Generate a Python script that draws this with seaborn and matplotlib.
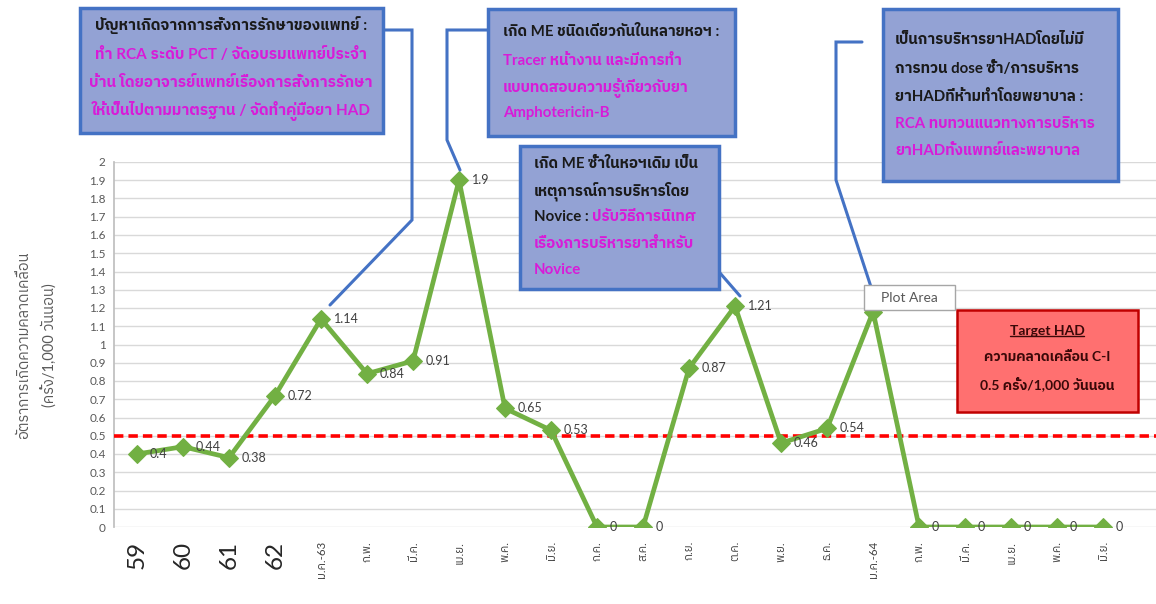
import numpy as np
import pandas as pd
import matplotlib
matplotlib.use("Agg")
import matplotlib.pyplot as plt
import seaborn as sns
from matplotlib import font_manager, ft2font
from matplotlib.patches import Rectangle
from matplotlib.lines import Line2D

# ---------------- data ----------------
categories = ["59", "60", "61", "62", "ม.ค.-63", "ก.พ.", "มี.ค.", "เม.ย.", "พ.ค.", "มิ.ย.",
              "ก.ค.", "ส.ค.", "ก.ย.", "ต.ค.", "พ.ย.", "ธ.ค.", "ม.ค.-64", "ก.พ.", "มี.ค.",
              "เม.ย.", "พ.ค.", "มิ.ย."]
rates = [0.4, 0.44, 0.38, 0.72, 1.14, 0.84, 0.91, 1.9, 0.65, 0.53, 0, 0, 0.87, 1.21,
         0.46, 0.54, 1.18, 0, 0, 0, 0, 0]
year_labels = ["59", "60", "61", "62"]
target_rate = 0.5
y_ticks = [round(0.1 * i, 1) for i in range(21)]
y_title = ["อัตราการเกิดความคลาดเคลื่อน", "(ครั้ง/1,000 วันนอน)"]

# ---------------- fonts ----------------
thai_fonts = []
for f in font_manager.fontManager.ttflist:
    try:
        cm = ft2font.FT2Font(f.fname).get_charmap()
    except Exception:
        continue
    if 0x0E01 in cm:
        thai_fonts.append(f.name)
thai_fonts = sorted(set(thai_fonts), key=lambda n: (0 if "Thai" in n and "Looped" not in n else 1, n))
thai = thai_fonts[0] if thai_fonts else "DejaVu Sans"

sns.set_theme(style="white")
FAM = ["Lato", thai, "DejaVu Sans"]
plt.rcParams["font.family"] = FAM

W, H = 1156, 604
fig = plt.figure(figsize=(W / 100, H / 100), dpi=100)
ax = fig.add_axes([114 / W, 77 / H, (W - 114) / W, 365 / H])

df = pd.DataFrame({"pos": np.arange(len(categories)), "rate": rates})
sns.lineplot(data=df, x="pos", y="rate", ax=ax, color="#72B043", lw=3.4, marker="D",
             markersize=9, markeredgecolor="#72B043", zorder=4)

ax.axhline(target_rate, color="#FF0000", lw=2.6, ls=(0, (2.6, 1.4)), zorder=3)

ax.set_ylim(0, 2)
ax.set_xlim(-0.5, 22.15)
ax.set_yticks(y_ticks)
ax.set_yticklabels([f"{t:g}" for t in y_ticks], fontsize=8.5, color="#595959")
ax.yaxis.grid(True, color="#D9D9D9", lw=1)
ax.xaxis.grid(False)
for s in ["top", "right", "bottom"]:
    ax.spines[s].set_visible(False)
ax.spines["left"].set_color("#BFBFBF")
ax.set_xlabel("")
ax.set_ylabel("")
ax.set_xticks(range(len(categories)))
ax.set_xticklabels(categories, rotation=90, ha="center", va="top")
for lab in ax.get_xticklabels():
    if lab.get_text() in year_labels:
        lab.set_fontsize(17.5)
        lab.set_color("#262626")
    else:
        lab.set_fontsize(8.3)
        lab.set_color("#404040")
ax.tick_params(axis="x", length=0, pad=10)
ax.tick_params(axis="y", length=0, pad=6)

for i, v in enumerate(rates):
    if categories[i] == "ม.ค.-64":
        continue
    ax.annotate(f"{v:g}", (i, v), xytext=(9, 0), textcoords="offset points",
                ha="left", va="center", fontsize=9, color="#404040", zorder=5)

# y title
fig.text(24 / W, 1 - 345 / H, y_title[0], rotation=90, ha="center", va="center",
         fontsize=10.5, color="#595959")
fig.text(50 / W, 1 - 345 / H, y_title[1], rotation=90, ha="center", va="center",
         fontsize=10.5, color="#595959")


def P(x, y):
    return (x / W, 1 - y / H)


def conn(points):
    xs = [p[0] / W for p in points]
    ys = [1 - p[1] / H for p in points]
    fig.add_artist(Line2D(xs, ys, transform=fig.transFigure, color="#4472C4", lw=2.2,
                          zorder=5, solid_joinstyle="miter"))


def box(x0, y0, x1, y1, fc="#93A2D4", ec="#4472C4", lw=2.5):
    fig.add_artist(Rectangle(P(x0, y1), (x1 - x0) / W, (y1 - y0) / H,
                             transform=fig.transFigure, fc=fc, ec=ec, lw=lw, zorder=6))


BLK = "#1A1A1A"
MAG = "#D81BD8"


def txt(x, y, s, color=BLK, ha="left", size=10.8):
    return fig.text(x / W, 1 - y / H, s, ha=ha, va="center", fontsize=size,
                    color=color, fontweight="bold", zorder=7)


# connectors
conn([(383, 30), (412, 30), (412, 220), (330, 305)])
conn([(488, 30), (447, 30), (447, 140), (460, 170)])
conn([(700, 250), (740, 296)])
conn([(862, 42), (836, 42), (836, 180), (872, 290)])

# box 1
box(80, 8, 383, 133)
txt(231, 25, "ปัญหาเกิดจากการสั่งการรักษาของแพทย์ :", BLK, "center", 11)
txt(231, 55, "ทำ RCA ระดับ PCT / จัดอบรมแพทย์ประจำ", MAG, "center", 11)
txt(231, 83, "บ้าน โดยอาจารย์แพทย์เรื่องการสั่งการรักษา", MAG, "center", 11)
txt(231, 111, "ให้เป็นไปตามมาตรฐาน / จัดทำคู่มือยา HAD", MAG, "center", 11)

# box 2
box(488, 9, 735, 136)
txt(503, 32, "เกิด ME ชนิดเดียวกันในหลายหอฯ :", BLK)
txt(503, 61, "Tracer หน้างาน และมีการทำ", MAG)
txt(503, 88, "แบบทดสอบความรู้เกี่ยวกับยา", MAG)
txt(503, 113, "Amphotericin-B", MAG)

# box 3
box(520, 146, 719, 289)
txt(534, 164, "เกิด ME ซ้ำในหอฯเดิม เป็น", BLK)
txt(534, 191, "เหตุการณ์การบริหารโดย", BLK)
t1 = txt(534, 217, "Novice : ", BLK)
fig.add_artist(matplotlib.text.Annotation("ปรับวิธีการนิเทศ", xy=(1, 0.5), xycoords=t1,
                                          ha="left", va="center", fontsize=10.8,
                                          color=MAG, fontweight="bold", zorder=7))
txt(534, 244, "เรื่องการบริหารยาสำหรับ", MAG)
txt(534, 270, "Novice", MAG)

# box 4
box(883, 9, 1118, 181)
txt(895, 40, "เป็นการบริหารยาHADโดยไม่มี", BLK)
txt(895, 68, "การทวน dose ซ้ำ/การบริหาร", BLK)
txt(895, 97, "ยาHADที่ห้ามทำโดยพยาบาล :", BLK)
txt(895, 124, "RCA ทบทวนแนวทางการบริหาร", MAG)
txt(895, 151, "ยาHADทั้งแพทย์และพยาบาล", MAG)

# target box
box(957, 310, 1138, 412, fc="#FF7070", ec="#C00000", lw=1.8)
DR = "#3A0808"
tt = txt(1047, 331, "Target HAD", DR, "center", 10)
txt(1047, 357, "ความคลาดเคลื่อน C-I", DR, "center", 10)
txt(1047, 384, "0.5 ครั้ง/1,000 วันนอน", DR, "center", 10)
fig.canvas.draw()
bb = tt.get_window_extent()
fig.add_artist(Line2D([bb.x0 / W, bb.x1 / W], [(bb.y0 + 1) / H, (bb.y0 + 1) / H],
                      transform=fig.transFigure, color=DR, lw=1.0, zorder=7))

# plot-area tooltip
fig.add_artist(Rectangle(P(864, 310), 91 / W, 25 / H, transform=fig.transFigure,
                         fc="white", ec="#A6A6A6", lw=1, zorder=8))
fig.text(909.5 / W, 1 - 297.5 / H, "Plot Area", ha="center", va="center", fontsize=10,
         color="#595959", zorder=9)

fig.savefig("out.png", dpi=100)
